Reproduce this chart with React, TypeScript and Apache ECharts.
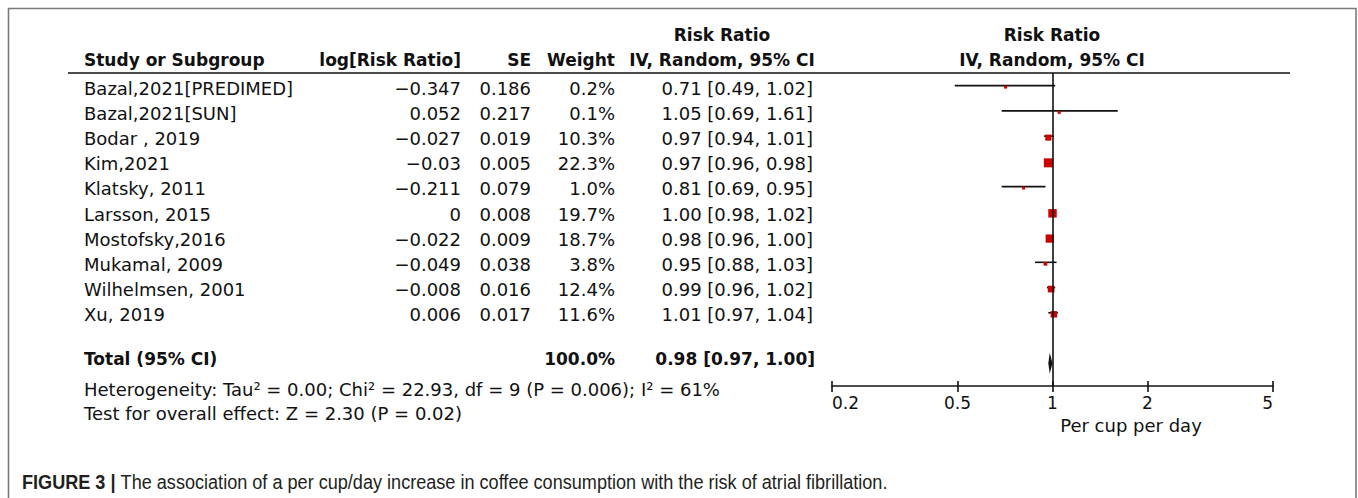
import React, { useEffect, useRef } from "react";
import * as echarts from "echarts";

const studies = [
  "Bazal,2021[PREDIMED]",
  "Bazal,2021[SUN]",
  "Bodar , 2019",
  "Kim,2021",
  "Klatsky, 2011",
  "Larsson, 2015",
  "Mostofsky,2016",
  "Mukamal, 2009",
  "Wilhelmsen, 2001",
  "Xu, 2019",
];
const logRR = [-0.347, 0.052, -0.027, -0.03, -0.211, 0, -0.022, -0.049, -0.008, 0.006];
const seVals = [0.186, 0.217, 0.019, 0.005, 0.079, 0.008, 0.009, 0.038, 0.016, 0.017];
const weights = [0.2, 0.1, 10.3, 22.3, 1.0, 19.7, 18.7, 3.8, 12.4, 11.6];
const rr = [0.71, 1.05, 0.97, 0.97, 0.81, 1.0, 0.98, 0.95, 0.99, 1.01];
const ciLow = [0.49, 0.69, 0.94, 0.96, 0.69, 0.98, 0.96, 0.88, 0.96, 0.97];
const ciHigh = [1.02, 1.61, 1.01, 0.98, 0.95, 1.02, 1.0, 1.03, 1.02, 1.04];
const totalRR = 0.98;
const totalLow = 0.97;
const totalHigh = 1.0;
const totalWeight = 100.0;
const xTicks = [0.2, 0.5, 1, 2, 5];
const heterogeneityText = "Heterogeneity: Tau² = 0.00; Chi² = 22.93, df = 9 (P = 0.006); I² = 61%";
const overallText = "Test for overall effect: Z = 2.30 (P = 0.02)";
const axisTitle = "Per cup per day";
const captionBold = "FIGURE 3 | ";
const captionText = "The association of a per cup/day increase in coffee consumption with the risk of atrial fibrillation.";

const FONT = "DejaVu Sans";
const FS_B = 17;
const FS = 18;

function fmtNum(v: number): string {
  return String(v).replace("-", "\u2212");
}
function fmtCI(m: number, l: number, h: number): string {
  return `${m.toFixed(2)} [${l.toFixed(2)}, ${h.toFixed(2)}]`;
}

function txt(x: number, y: number, text: string, align: string, bold = false, extra: any = {}) {
  return {
    type: "text",
    x,
    y,
    silent: true,
    style: {
      text,
      fill: "#111",
      fontFamily: FONT,
      fontSize: bold ? FS_B : FS,
      fontWeight: bold ? "bold" : "normal",
      textAlign: align,
      textVerticalAlign: "middle",
      ...extra,
    },
  };
}

export default function App() {
  const ref = useRef<HTMLDivElement>(null);
  useEffect(() => {
    if (!ref.current) return;
    const chart = echarts.init(ref.current, undefined, { renderer: "svg" });

    const rowY = (i: number) => 88 + 25.2 * i;
    const colStudy = 84, colLog = 461, colSE = 531, colW = 615, colCI = 813;

    const graphics: any[] = [];
    graphics.push({
      type: "polyline",
      silent: true,
      shape: { points: [[8.5, 498], [8.5, 8.5], [1356, 8.5], [1356, 498]] },
      style: { stroke: "#7a7a7a", lineWidth: 1.6, fill: "none" },
    });
    graphics.push({
      type: "line",
      silent: true,
      shape: { x1: 68, y1: 73, x2: 1290, y2: 73 },
      style: { stroke: "#111", lineWidth: 1.6 },
    });
    graphics.push(txt(colStudy, 60, "Study or Subgroup", "left", true));
    graphics.push(txt(colLog, 60, "log[Risk Ratio]", "right", true));
    graphics.push(txt(colSE, 60, "SE", "right", true));
    graphics.push(txt(colW, 60, "Weight", "right", true));
    graphics.push(txt(722, 35, "Risk Ratio", "center", true));
    graphics.push(txt(722, 60, "IV, Random, 95% CI", "center", true));
    graphics.push(txt(1052, 35, "Risk Ratio", "center", true));
    graphics.push(txt(1052, 60, "IV, Random, 95% CI", "center", true));

    studies.forEach((s, i) => {
      const y = rowY(i);
      graphics.push(txt(colStudy, y, s, "left"));
      graphics.push(txt(colLog, y, fmtNum(logRR[i]), "right"));
      graphics.push(txt(colSE, y, seVals[i].toFixed(3), "right"));
      graphics.push(txt(colW, y, weights[i].toFixed(1) + "%", "right"));
      graphics.push(txt(colCI, y, fmtCI(rr[i], ciLow[i], ciHigh[i]), "right"));
    });

    graphics.push(txt(colStudy, 359, "Total (95% CI)", "left", true));
    graphics.push(txt(colW, 359, totalWeight.toFixed(1) + "%", "right", true));
    graphics.push(txt(815, 359, fmtCI(totalRR, totalLow, totalHigh), "right", true));
    graphics.push(txt(colStudy, 389, heterogeneityText, "left"));
    graphics.push(txt(colStudy, 413, overallText, "left"));
    graphics.push(txt(1131, 425, axisTitle, "center"));

    graphics.push({
      type: "text",
      x: 22,
      y: 482,
      scaleX: 0.905,
      silent: true,
      style: {
        text: `{b|${captionBold}}{r|${captionText}}`,
        textVerticalAlign: "middle",
        rich: {
          b: { fontFamily: "Liberation Sans", fontSize: 20, fontWeight: "bold", fill: "#231f20" },
          r: { fontFamily: "Liberation Sans", fontSize: 20, fill: "#231f20" },
        },
      },
    });

    const studyData = studies.map((_, i) => [rr[i], ciLow[i], ciHigh[i], i, weights[i]]);

    const option: any = {
      animation: false,
      backgroundColor: "#fff",
      grid: {
        left: 832,
        right: 85,
        top: 73,
        bottom: 112,
        containLabel: false,
        outerBoundsMode: "none",
      },
      xAxis: [
        {
          type: "log",
          logBase: 10,
          min: 0.2,
          max: 5,
          position: "bottom",
          splitLine: { show: false },
          axisLine: { show: true, onZero: false, lineStyle: { color: "#111", width: 1.6 } },
          axisTick: { show: true, customValues: xTicks, length: 6, lineStyle: { color: "#111", width: 1.6 } },
          axisLabel: {
            show: true,
            customValues: xTicks,
            margin: 8,
            color: "#111",
            fontFamily: FONT,
            fontSize: 17,
            alignMinLabel: "left",
            alignMaxLabel: "right",
            formatter: (v: number) => String(v),
          },
        },
        {
          type: "log",
          logBase: 10,
          min: 0.2,
          max: 5,
          position: "bottom",
          splitLine: { show: false },
          axisLine: { show: false, onZero: false },
          axisTick: { show: true, inside: true, customValues: xTicks, length: 5, lineStyle: { color: "#111", width: 1.6 } },
          axisLabel: { show: false },
        },
      ],
      yAxis: {
        type: "value",
        min: -0.5,
        max: 11.9,
        inverse: true,
        show: false,
        splitLine: { show: false },
      },
      graphic: graphics,
      series: [
        {
          type: "custom",
          xAxisIndex: 0,
          yAxisIndex: 0,
          data: studyData,
          renderItem: (params: any, api: any) => {
            const m = api.value(0), l = api.value(1), h = api.value(2), r = api.value(3), w = api.value(4);
            const p0 = api.coord([l, r]);
            const p1 = api.coord([h, r]);
            const pm = api.coord([m, r]);
            const size = Math.max(3, 1.9 * Math.sqrt(w));
            return {
              type: "group",
              children: [
                {
                  type: "line",
                  shape: { x1: p0[0], y1: p0[1], x2: p1[0], y2: p1[1] },
                  style: { stroke: "#111", lineWidth: 1.6 },
                },
                {
                  type: "rect",
                  shape: { x: pm[0] - size / 2, y: pm[1] + 1.5 - size / 2, width: size, height: size },
                  style: { fill: "#cc0000" },
                },
              ],
            };
          },
          markLine: {
            silent: true,
            symbol: "none",
            label: { show: false },
            lineStyle: { color: "#111", width: 1.6, type: "solid" },
            data: [{ xAxis: 1 }],
          },
          z: 3,
        },
        {
          type: "custom",
          xAxisIndex: 0,
          yAxisIndex: 0,
          data: [[totalRR, totalLow, totalHigh, 11]],
          renderItem: (params: any, api: any) => {
            const m = api.value(0), l = api.value(1), h = api.value(2), r = api.value(3);
            const pl = api.coord([l, r]);
            const ph = api.coord([h, r]);
            const pm = api.coord([m, r]);
            const hh = 10.5;
            return {
              type: "polygon",
              shape: {
                points: [
                  [pl[0], pl[1]],
                  [pm[0], pm[1] - hh],
                  [ph[0], ph[1]],
                  [pm[0], pm[1] + hh],
                ],
              },
              style: { fill: "#111" },
            };
          },
          z: 4,
        },
      ],
    };

    chart.setOption(option);
    return () => chart.dispose();
  }, []);

  return (
    <div
      ref={ref}
      style={{ position: "fixed", left: 0, top: 0, width: 1358, height: 498, background: "#fff" }}
    />
  );
}
